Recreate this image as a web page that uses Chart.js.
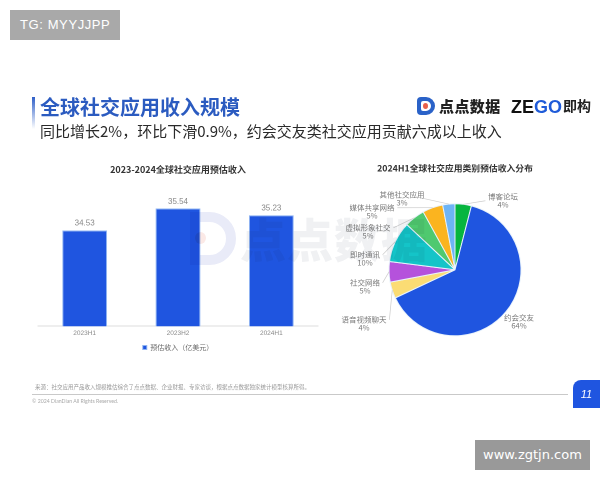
<!DOCTYPE html>
<html><head><meta charset="utf-8">
<script src="https://cdn.jsdelivr.net/npm/chart.js@4"></script>
<style>
html,body{margin:0;padding:0;background:#fff;width:600px;height:480px;overflow:hidden;font-family:"Noto Sans CJK SC","Noto Sans",sans-serif}
#page{position:absolute;left:0;top:0;width:600px;height:480px;filter:blur(.45px)}
.t{position:absolute;white-space:nowrap;line-height:1}
canvas{position:absolute}
</style></head><body>
<div id="page">
<canvas id="bar" style="left:24px;top:160px;width:300px;height:201px"></canvas>
<canvas id="pie" style="left:330px;top:160px;width:250px;height:200px"></canvas>
<div style="position:absolute;left:190px;top:212px;width:26px;height:33px;border:10px solid #e9ebf8;border-radius:0 28px 28px 0;mix-blend-mode:multiply"></div>
<div style="position:absolute;left:195px;top:232px;width:11px;height:12px;border-radius:50%;background:#fbe9e6;mix-blend-mode:multiply"></div>
<div class="t" style="left:240px;top:214px;font-size:46px;font-weight:900;color:#f0f1f3;letter-spacing:1px;mix-blend-mode:multiply">点点数据</div>

<div class="t" style="left:10px;top:10px;width:110px;height:30px;background:#a9a9a9;color:#fff;font:13px/30px 'Liberation Sans',sans-serif;text-indent:10px;letter-spacing:.6px">TG: MYYJJPP</div>
<div style="position:absolute;left:32px;top:97px;width:3px;height:32px;background:linear-gradient(#2f5fc8,#fff)"></div>
<div class="t" style="left:40px;top:97px;font-size:20px;font-weight:700;color:#2b5bc0">全球社交应用收入规模</div>
<div class="t" style="left:40px;top:123px;font-size:15px;color:#2a2a2a">同比增长2%，环比下滑0.9%，约会交友类社交应用贡献六成以上收入</div>

<div style="position:absolute;left:417px;top:97px;width:18px;height:18px;border-radius:4px 9px 9px 4px;background:#2a62c8"></div>
<div style="position:absolute;left:421px;top:101px;width:10px;height:10px;border-radius:2px 5px 5px 2px;background:#fff"></div>
<div style="position:absolute;left:423px;top:103px;width:5px;height:6px;border-radius:50%;background:#e9604a"></div>
<div class="t" style="left:439px;top:98px;font-size:15px;font-weight:900;color:#222;letter-spacing:.4px">点点数据</div>
<div class="t" style="left:511px;top:97px;font:700 18px 'Liberation Sans',sans-serif;color:#111">ZE<span style="color:#1f5bd8">GO</span></div>
<div class="t" style="left:563px;top:98px;font-size:14px;font-weight:700;color:#222">即构</div>

<div class="t" style="left:35px;top:385px;font-size:5.5px;color:#999">来源：社交应用产品收入规模推估综合了点点数据、企业财报、专家访谈，根据点点数据独家统计模型核算所得。</div>
<div style="position:absolute;left:32px;top:394px;width:536px;height:1px;background:#c9c9c9"></div>
<div class="t" style="left:32px;top:398px;font:5.2px 'Lato',sans-serif;color:#aaa">© 2024 DianDian All Rights Reserved.</div>
<div class="t" style="left:573px;top:380px;width:27px;height:28px;background:#1f55e0;border-radius:8px 0 0 0;color:#fff;font:italic 11px/28px 'Liberation Sans',sans-serif;text-align:center">11</div>
<div class="t" style="left:475px;top:440px;width:115px;height:30px;background:#999;color:#fff;font:13px/30px 'DejaVu Sans',sans-serif;text-align:center">www.zgtjn.com</div>
</div>
<script>
const FONT='"Noto Sans CJK SC",sans-serif';
const barCategories=['2023H1','2023H2','2024H1'];
const barValues=[34.53,35.54,35.23];
const barSeriesName='预估收入（亿美元）';
const pieCategories=['博客论坛','约会交友','语音视频聊天','社交网络','即时通讯','虚拟形象社交','媒体共享网络','其他社交应用'];
const pieValues=[4,64,4,5,10,5,5,3];
const pieColors=['#07b53f','#1f55e0','#fbdc74','#b552dc','#14c4c8','#4fc96f','#fbb41f','#6db4f5'];

const barLabels={id:'barLabels',afterDatasetsDraw(c){
  const x=c.ctx,m=c.getDatasetMeta(0);
  x.save();x.font='8px "Liberation Sans",sans-serif';x.fillStyle='#888';x.textAlign='center';x.textBaseline='bottom';
  m.data.forEach((b,i)=>x.fillText(barValues[i].toFixed(2),b.x,b.y-3));
  x.restore();
}};
new Chart(document.getElementById('bar'),{type:'bar',plugins:[barLabels],
 data:{labels:barCategories,datasets:[{label:barSeriesName,data:barValues,backgroundColor:'#1f55e0',borderColor:'#8fb4f2',borderWidth:1,barPercentage:1,categoryPercentage:.48}]},
 options:{responsive:false,animation:false,devicePixelRatio:2,
  layout:{padding:{left:14,right:6,top:0,bottom:0}},
  scales:{y:{display:false,min:30.13,max:37},
   x:{grid:{display:false,drawTicks:false},border:{color:'#ddd'},ticks:{color:'#888',font:{size:6.5,family:'"Liberation Sans"'},padding:3}}},
  plugins:{tooltip:{enabled:false},
   title:{display:true,text:'2023-2024全球社交应用预估收入',color:'#333',font:{size:9,weight:'bold',family:FONT},padding:{top:4,bottom:2}},
   legend:{position:'bottom',labels:{boxWidth:4,boxHeight:4,padding:4,color:'#666',font:{size:7,family:FONT}}}}}});

const pieLabels={id:'pieLabels',afterDatasetsDraw(c){
  const x=c.ctx,m=c.getDatasetMeta(0);
  const anchors=[[48,-73],[64,48],[-91,50],[-90,13],[-90,-15],[-87,-42],[-83,-62],[-53,-75]];
  x.save();x.textAlign='center';x.textBaseline='middle';
  m.data.forEach((a,i)=>{
    const mid=(a.startAngle+a.endAngle)/2,cx=a.x,cy=a.y,r=a.outerRadius;
    const px=cx+Math.cos(mid)*r,py=cy+Math.sin(mid)*r;
    const tx=cx+anchors[i][0],ty=cy+anchors[i][1];
    if(i!==1){
      x.strokeStyle='#ccc';x.lineWidth=.7;x.beginPath();x.moveTo(px,py);
      const w=pieCategories[i].length*3.9;
      const ex=i===0?tx-w-2:(i===7?tx+w*.6:tx+w+2);
      x.lineTo(ex,ty+(i===7?2:0)+(i===0?4:0));x.stroke();
    }
    x.fillStyle='#777';x.font='7.5px '+FONT;x.fillText(pieCategories[i],tx,ty);
    x.fillText(pieValues[i]+'%',tx,ty+8);
  });
  x.restore();
}};
new Chart(document.getElementById('pie'),{type:'pie',plugins:[pieLabels],
 data:{labels:pieCategories,datasets:[{data:pieValues,backgroundColor:pieColors,borderColor:'#e8f2fb',borderWidth:1,radius:66}]},
 options:{responsive:false,animation:false,devicePixelRatio:2,
  layout:{padding:0},
  plugins:{tooltip:{enabled:false},legend:{display:false},
   title:{display:true,text:'2024H1全球社交应用类别预估收入分布',color:'#333',font:{size:8.8,weight:'bold',family:FONT},padding:{top:3,bottom:6}}}}});
</script>
</body></html>
